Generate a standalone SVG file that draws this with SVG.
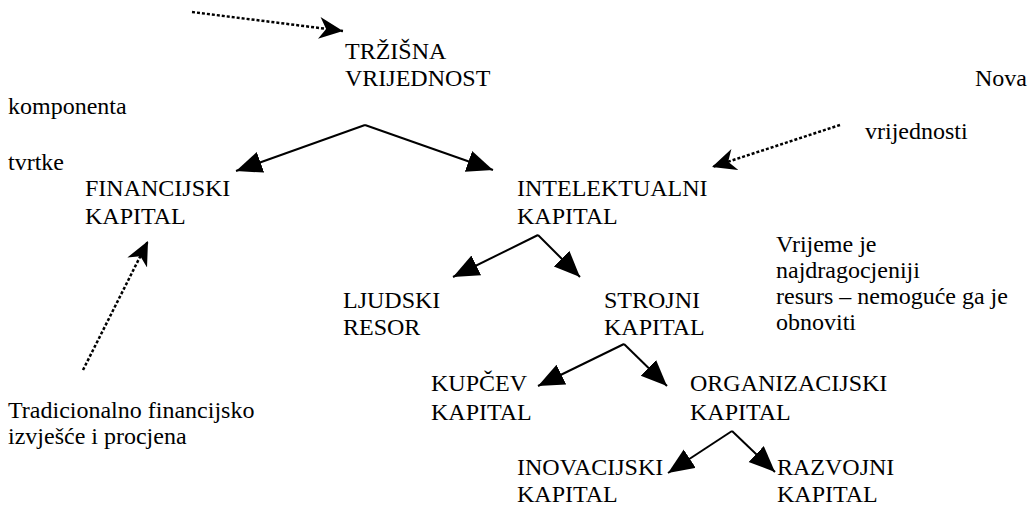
<svg xmlns="http://www.w3.org/2000/svg" width="1033" height="506" viewBox="0 0 1033 506">
<style>
.s{stroke:#000;stroke-width:2;fill:none}
.d{stroke:#000;stroke-width:2.5;fill:none;stroke-dasharray:3,2}
</style>
<defs>
<marker id="ah" markerUnits="userSpaceOnUse" markerWidth="28" markerHeight="24" refX="26" refY="11" orient="auto" viewBox="0 0 28 24">
<path d="M0,0 L26,11 L0,22 z" fill="#000"/>
</marker>
<marker id="dh" markerUnits="userSpaceOnUse" markerWidth="26" markerHeight="24" refX="24" refY="11" orient="auto" viewBox="0 0 26 24">
<path d="M0,0 L24,11 L0,22 L7,11 z" fill="#000"/>
</marker>
</defs>
<rect width="1033" height="506" fill="#fff"/>
<g id="connectors">
<line class="d" x1="192" y1="12" x2="343" y2="31" marker-end="url(#dh)"/>
<line class="d" x1="840" y1="125" x2="712" y2="167" marker-end="url(#dh)"/>
<line class="d" x1="83" y1="370" x2="148" y2="241" marker-end="url(#dh)"/>
<path class="s" d="M365,125 L236,171" marker-end="url(#ah)"/>
<path class="s" d="M365,125 L493,170" marker-end="url(#ah)"/>
<path class="s" d="M538,235 L453,277" marker-end="url(#ah)"/>
<path class="s" d="M538,235 L580,277" marker-end="url(#ah)"/>
<path class="s" d="M624,344 L538,386" marker-end="url(#ah)"/>
<path class="s" d="M624,344 L667,386" marker-end="url(#ah)"/>
<path class="s" d="M732,431 L668,473" marker-end="url(#ah)"/>
<path class="s" d="M732,431 L775,472" marker-end="url(#ah)"/>
</g>
<g font-family="Liberation Serif, Tinos, Times New Roman, Times, DejaVu Serif, serif" font-size="24" fill="#000">
<g id="trzisna"><text x="345" y="59">TRŽIŠNA</text><text x="345" y="86">VRIJEDNOST</text></g>
<g id="financijski"><text x="85" y="196">FINANCIJSKI</text><text x="85" y="224">KAPITAL</text></g>
<g id="intelektualni"><text x="517" y="196">INTELEKTUALNI</text><text x="517" y="224">KAPITAL</text></g>
<g id="ljudski"><text x="343" y="308">LJUDSKI</text><text x="343" y="335">RESOR</text></g>
<g id="strojni"><text x="604" y="308">STROJNI</text><text x="604" y="335">KAPITAL</text></g>
<g id="kupcev"><text x="431" y="391">KUPČEV</text><text x="431" y="420">KAPITAL</text></g>
<g id="organizacijski"><text x="690" y="391">ORGANIZACIJSKI</text><text x="690" y="420">KAPITAL</text></g>
<g id="inovacijski"><text x="517" y="475">INOVACIJSKI</text><text x="517" y="502">KAPITAL</text></g>
<g id="razvojni"><text x="777" y="475">RAZVOJNI</text><text x="777" y="502">KAPITAL</text></g>
<g id="komponenta"><text x="8" y="114">komponenta</text><text x="8" y="170">tvrtke</text></g>
<g id="nova"><text x="975" y="86">Nova</text><text x="865" y="139">vrijednosti</text></g>
<g id="tradicionalno"><text x="8" y="418">Tradicionalno financijsko</text><text x="8" y="444">izvješće i procjena</text></g>
<g id="vrijeme"><text x="776" y="252">Vrijeme  je</text><text x="776" y="278">najdragocjeniji</text><text x="776" y="304">resurs – nemoguće ga je</text><text x="776" y="330">obnoviti</text></g>
</g>
</svg>
